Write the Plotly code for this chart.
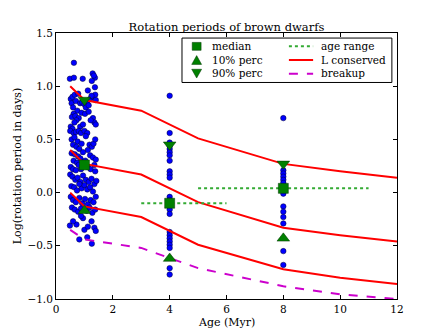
import plotly.graph_objects as go

# --- data ---
# young cluster (~1 Myr), spread in age 0.5-1.5
young_age = [0.63, 0.49, 0.63, 0.94, 1.29, 1.37, 1.26, 1.37, 1.12, 1.33,
             0.52, 0.58, 0.66, 0.55, 0.70, 0.60, 0.85, 0.92, 1.00, 1.10,
             1.20, 1.30, 1.38, 1.40, 1.05, 1.15, 0.78, 1.25,
             0.75, 0.62, 0.56, 0.68, 0.80, 0.72, 0.65, 0.90, 1.02, 1.15,
             1.30, 1.35, 1.40, 0.52, 0.58, 0.85, 0.95, 1.22,
             0.50, 0.62, 0.70, 0.80, 0.88, 1.00, 1.10, 1.05, 0.55, 0.65,
             0.76, 0.60, 0.72, 0.82, 0.90, 1.18, 1.26, 1.32, 1.38, 1.12,
             0.55, 0.66, 0.78, 0.62, 0.74, 0.86, 0.95, 1.03, 1.20, 1.30,
             1.40, 1.35, 0.52, 0.60, 0.70, 0.88, 1.12, 1.22, 1.38, 0.80,
             0.50, 0.58, 0.68, 0.76, 0.86, 0.95, 1.05, 1.15, 1.25, 1.35,
             1.42, 0.54, 0.64, 0.74, 0.90, 1.00, 1.10, 1.20, 1.30, 0.82,
             0.52, 0.60, 0.70, 0.82, 0.92, 1.02, 1.12, 1.22, 1.32, 1.40,
             0.56, 0.66, 0.78, 0.88, 1.08, 1.18, 1.28, 1.38,
             0.49, 0.72, 1.00, 1.12, 1.35, 0.60, 0.95, 1.25, 1.40, 0.88,
             0.82, 1.10, 1.26]
young_logp = [1.22, 1.07, 1.08, 1.07, 1.12, 1.08, 1.05, 0.99, 0.96, 1.10,
              0.88, 0.90, 0.92, 0.84, 0.86, 0.80, 0.84, 0.85, 0.83, 0.86,
              0.88, 0.90, 0.92, 0.87, 0.80, 0.82, 0.93, 0.91,
              0.77, 0.74, 0.71, 0.72, 0.70, 0.68, 0.66, 0.75, 0.74, 0.76,
              0.70, 0.66, 0.64, 0.62, 0.60, 0.62, 0.64, 0.68,
              0.58, 0.56, 0.57, 0.58, 0.56, 0.58, 0.56, 0.53, 0.50, 0.52,
              0.48, 0.45, 0.43, 0.41, 0.46, 0.45, 0.43, 0.46, 0.50, 0.40,
              0.37, 0.36, 0.34, 0.30, 0.28, 0.32, 0.38, 0.30, 0.35, 0.33,
              0.31, 0.26, 0.24, 0.22, 0.21, 0.22, 0.24, 0.22, 0.20, 0.26,
              0.17, 0.15, 0.12, 0.14, 0.10, 0.16, 0.12, 0.10, 0.13, 0.08,
              0.11, 0.06, 0.05, 0.02, 0.04, 0.07, 0.03, 0.05, 0.01, 0.08,
              -0.04, -0.07, -0.09, -0.05, -0.10, -0.06, -0.11, -0.07, -0.09, -0.04,
              -0.14, -0.16, -0.18, -0.15, -0.17, -0.14, -0.19, -0.16,
              -0.31, -0.30, -0.35, -0.32, -0.33, -0.27, -0.24, -0.27, -0.36, -0.22,
              -0.44, -0.42, -0.48]

age4_logp = [0.91, 0.56, 0.47, 0.44, 0.41, 0.38, 0.35, 0.30, 0.20, 0.17, 0.14,
             -0.04, -0.07, -0.10, -0.13, -0.16, -0.20, -0.37, -0.40, -0.43,
             -0.46, -0.49, -0.52, -0.71, -0.77]
age8_logp = [0.70, 0.21, 0.18, 0.15, 0.12, 0.09, 0.04, -0.01, -0.13, -0.18,
             -0.23, -0.29, -0.55, -0.68]

stat_age = [1, 4, 8]
median_logp = [0.26, -0.10, 0.04]
perc10_logp = [-0.17, -0.62, -0.43]
perc90_logp = [0.87, 0.45, 0.27]

# age ranges of the two older groups
range_age = [[3, 6], [5, 11]]
range_logp = [-0.10, 0.04]

# angular momentum conserved tracks and breakup limit
track_age = [0.5, 1, 3, 5, 8, 10, 12]
track_logp = [[1.00, 0.87, 0.77, 0.51, 0.27, 0.20, 0.14],
              [0.40, 0.27, 0.17, -0.09, -0.33, -0.40, -0.46],
              [0.00, -0.13, -0.23, -0.49, -0.72, -0.80, -0.86]]
breakup_logp = [-0.35, -0.44, -0.52, -0.71, -0.88, -0.955, -1.00]

legend_marker_labels = ["median", "10% perc", "90% perc"]
legend_line_labels = ["age range", "L conserved", "breakup"]

FONT = "DejaVu Serif"
GREEN = "#008000"
RED = "#ff0000"
MAGENTA = "#cc00cc"
DOTGREEN = "#33aa33"

fig = go.Figure()

dot = dict(color="#0000ff", size=5.5, line=dict(color="#000033", width=0.5))
fig.add_trace(go.Scatter(x=young_age, y=young_logp, mode="markers", marker=dot))
fig.add_trace(go.Scatter(x=[4] * len(age4_logp), y=age4_logp, mode="markers", marker=dot))
fig.add_trace(go.Scatter(x=[8] * len(age8_logp), y=age8_logp, mode="markers", marker=dot))

# tracks
for ys in track_logp:
    fig.add_trace(go.Scatter(x=track_age, y=ys, mode="lines",
                             line=dict(color=RED, width=2)))
fig.add_trace(go.Scatter(x=track_age, y=breakup_logp, mode="lines",
                         line=dict(color=MAGENTA, width=2, dash="dash")))

for xs, yv in zip(range_age, range_logp):
    fig.add_trace(go.Scatter(x=xs, y=[yv, yv], mode="lines",
                             line=dict(color=DOTGREEN, width=2, dash="dot")))

mk_line = dict(color="#003300", width=0.5)
fig.add_trace(go.Scatter(x=stat_age, y=median_logp, mode="markers",
                         marker=dict(symbol="square", size=10, color=GREEN, line=mk_line)))
fig.add_trace(go.Scatter(x=stat_age, y=perc10_logp, mode="markers",
                         marker=dict(symbol="triangle-up", size=11, color=GREEN, line=mk_line)))
fig.add_trace(go.Scatter(x=stat_age, y=perc90_logp, mode="markers",
                         marker=dict(symbol="triangle-down", size=11, color=GREEN, line=mk_line)))

# hand-made two-column legend (matplotlib style box), paper coordinates
fig.add_shape(type="rect", xref="paper", yref="paper", x0=0.3695, x1=0.985,
              y0=0.814, y1=0.981, line=dict(color="black", width=1),
              fillcolor="white", layer="above")
rows = [0.9498, 0.8985, 0.8472]
cx, hw, hh = 0.4125, 0.0145, 0.0165
sym_paths = [
    f"M{cx-hw*0.9},{rows[0]-hh*0.9} L{cx+hw*0.9},{rows[0]-hh*0.9} "
    f"L{cx+hw*0.9},{rows[0]+hh*0.9} L{cx-hw*0.9},{rows[0]+hh*0.9} Z",
    f"M{cx-hw},{rows[1]-hh} L{cx+hw},{rows[1]-hh} L{cx},{rows[1]+hh} Z",
    f"M{cx-hw},{rows[2]+hh} L{cx+hw},{rows[2]+hh} L{cx},{rows[2]-hh} Z",
]
for p in sym_paths:
    fig.add_shape(type="path", xref="paper", yref="paper", path=p,
                  fillcolor=GREEN, line=dict(color="#003300", width=0.5), layer="above")
fig.add_annotation(x=0.452, y=rows[1], xref="paper", yref="paper",
                   text="<br>".join(legend_marker_labels), showarrow=False, align="left",
                   font=dict(family=FONT, size=10.5, color="black"),
                   xanchor="left", yanchor="middle")
line_styles = [(DOTGREEN, "dot"), (RED, "solid"), (MAGENTA, "dash")]
for yy, (col, dash) in zip(rows, line_styles):
    fig.add_shape(type="line", xref="paper", yref="paper", x0=0.683, x1=0.754,
                  y0=yy, y1=yy, line=dict(color=col, width=2, dash=dash), layer="above")
fig.add_annotation(x=0.770, y=rows[1], xref="paper", yref="paper",
                   text="<br>".join(legend_line_labels), showarrow=False, align="left",
                   font=dict(family=FONT, size=10.5, color="black"),
                   xanchor="left", yanchor="middle")

# x axis title placed by hand so it sits like the reference
fig.add_annotation(x=0.5, y=-0.09, xref="paper", yref="paper", text="Age (Myr)",
                   showarrow=False, xanchor="center", yanchor="middle",
                   font=dict(family=FONT, size=11, color="black"))

axis_style = dict(showline=True, linecolor="black", linewidth=1, mirror="ticks",
                  ticks="inside", ticklen=4, tickcolor="black", showgrid=False,
                  zeroline=False, automargin=False,
                  tickfont=dict(family=FONT, size=10.5, color="black"))

fig.update_layout(
    width=442, height=333,
    margin=dict(l=56, r=45, t=33, b=34),
    paper_bgcolor="white", plot_bgcolor="white",
    showlegend=False,
    font=dict(family=FONT, size=11, color="black"),
    title=dict(text="Rotation periods of brown dwarfs", x=0.5, xanchor="center",
               xref="paper", yref="paper", y=1.0, yanchor="bottom", pad=dict(b=2),
               font=dict(family=FONT, size=11.5, color="black")),
    xaxis=dict(range=[0, 12], tickvals=[0, 2, 4, 6, 8, 10, 12], **axis_style),
    yaxis=dict(range=[-1.0, 1.5], tickvals=[-1.0, -0.5, 0.0, 0.5, 1.0, 1.5],
               tickformat=".1f",
               title=dict(text="Log(rotation period in days)", standoff=3,
                          font=dict(family=FONT, size=11)), **axis_style),
)

# the page body has a default 8px margin; drop it so the figure fills the window
fig.write_html("out.html", config={"displayModeBar": False},
               post_script="document.body.style.margin='0px';")
